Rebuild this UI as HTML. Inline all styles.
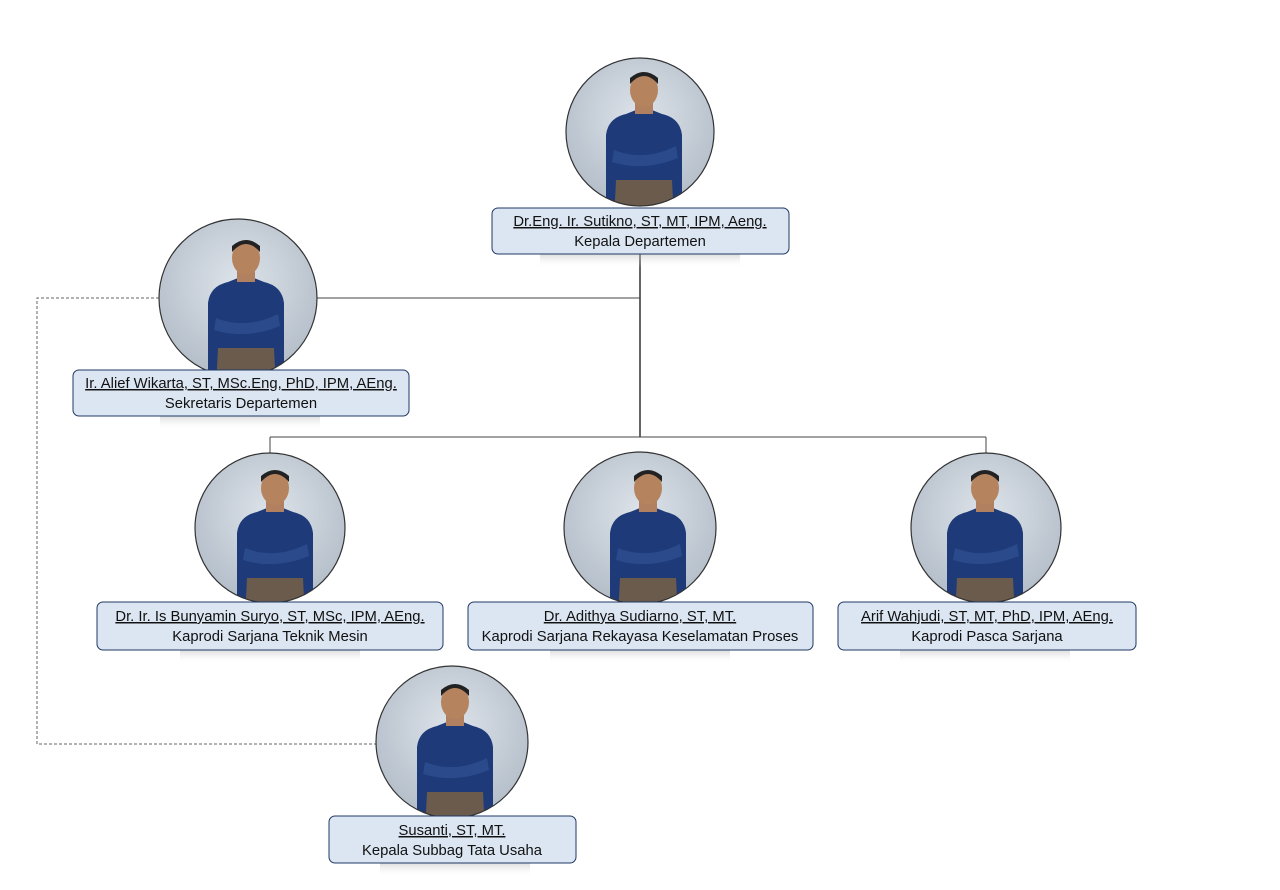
<!DOCTYPE html>
<html><head><meta charset="utf-8"><style>
html,body{margin:0;padding:0;background:#fff;}
svg{display:block;}
text{font-family:"Liberation Sans",sans-serif;font-size:14.8px;fill:#111;}
</style></head><body>
<svg width="1280" height="890" viewBox="0 0 1280 890">
<defs>
<radialGradient id="bg" cx="50%" cy="40%" r="60%">
<stop offset="0" stop-color="#dde3ea"/><stop offset="1" stop-color="#b4bec9"/>
</radialGradient>
<linearGradient id="sh" x1="0" y1="0" x2="0" y2="1">
<stop offset="0" stop-color="#bbb" stop-opacity="0.5"/><stop offset="1" stop-color="#fff" stop-opacity="0"/>
</linearGradient>
<g id="person">
<path d="M-38,80 L-38,-5 Q-36,-22 -18,-26 L-8,-30 L8,-30 L18,-26 Q36,-22 38,-5 L38,80 Z" fill="#1e3a78"/>
<path d="M-28,40 L28,40 L30,80 L-30,80 Z" fill="#8a6a3a" opacity="0.7"/>
<path d="M-30,10 Q0,22 32,6 L34,18 Q0,32 -32,22 Z" fill="#2a4a8c"/>
<rect x="-9" y="-38" width="18" height="12" fill="#b08060"/>
<ellipse cx="0" cy="-50" rx="14" ry="17" fill="#b5835e"/>
<path d="M-14,-56 Q0,-72 14,-56 L14,-62 Q0,-74 -14,-62 Z" fill="#222"/>
</g>
<clipPath id="c1"><circle cx="640" cy="132" r="74"/></clipPath>
<clipPath id="c2"><circle cx="238" cy="298" r="79"/></clipPath>
<clipPath id="c3"><circle cx="270" cy="528" r="75"/></clipPath>
<clipPath id="c4"><circle cx="640" cy="528" r="76"/></clipPath>
<clipPath id="c5"><circle cx="986" cy="528" r="75"/></clipPath>
<clipPath id="c6"><circle cx="452" cy="742" r="76"/></clipPath>
</defs>
<g stroke="#111" stroke-width="1.3" fill="none">
<line x1="640" y1="254" x2="640" y2="437"/>
<line x1="317" y1="298" x2="640" y2="298" stroke="#444" stroke-width="1"/>
<line x1="270" y1="437" x2="986" y2="437" stroke="#444" stroke-width="1"/>
<line x1="270" y1="437" x2="270" y2="453" stroke="#444" stroke-width="1"/>
<line x1="986" y1="437" x2="986" y2="453" stroke="#444" stroke-width="1"/>
</g>
<path d="M159,298 H37 V744 H376" fill="none" stroke="#666" stroke-width="1" stroke-dasharray="3,2"/>
<circle cx="640" cy="132" r="74" fill="url(#bg)"/>
<g clip-path="url(#c1)"><use href="#person" transform="translate(644,140)"/></g>
<circle cx="640" cy="132" r="74" fill="none" stroke="#333" stroke-width="1.2"/>
<circle cx="238" cy="298" r="79" fill="url(#bg)"/>
<g clip-path="url(#c2)"><use href="#person" transform="translate(246,308)"/></g>
<circle cx="238" cy="298" r="79" fill="none" stroke="#333" stroke-width="1.2"/>
<circle cx="270" cy="528" r="75" fill="url(#bg)"/>
<g clip-path="url(#c3)"><use href="#person" transform="translate(275,538)"/></g>
<circle cx="270" cy="528" r="75" fill="none" stroke="#333" stroke-width="1.2"/>
<circle cx="640" cy="528" r="76" fill="url(#bg)"/>
<g clip-path="url(#c4)"><use href="#person" transform="translate(648,538)"/></g>
<circle cx="640" cy="528" r="76" fill="none" stroke="#333" stroke-width="1.2"/>
<circle cx="986" cy="528" r="75" fill="url(#bg)"/>
<g clip-path="url(#c5)"><use href="#person" transform="translate(985,538)"/></g>
<circle cx="986" cy="528" r="75" fill="none" stroke="#333" stroke-width="1.2"/>
<circle cx="452" cy="742" r="76" fill="url(#bg)"/>
<g clip-path="url(#c6)"><use href="#person" transform="translate(455,752)"/></g>
<circle cx="452" cy="742" r="76" fill="none" stroke="#333" stroke-width="1.2"/>
<g fill="url(#sh)">
<rect x="540" y="254" width="200" height="14"/>
<rect x="160" y="416" width="160" height="14"/>
<rect x="180" y="650" width="180" height="14"/>
<rect x="550" y="650" width="180" height="14"/>
<rect x="900" y="650" width="170" height="14"/>
<rect x="380" y="863" width="150" height="14"/>
</g>
<g fill="#dce6f2" stroke="#1f3864" stroke-width="1">
<rect x="492" y="208" width="297" height="46" rx="6"/>
<rect x="73" y="370" width="336" height="46" rx="6"/>
<rect x="97" y="602" width="346" height="48" rx="6"/>
<rect x="468" y="602" width="345" height="48" rx="6"/>
<rect x="838" y="602" width="298" height="48" rx="6"/>
<rect x="329" y="816" width="247" height="47" rx="6"/>
</g>
<g text-anchor="middle">
<text x="640" y="226" text-decoration="underline">Dr.Eng. Ir. Sutikno, ST, MT, IPM, Aeng.</text>
<text x="640" y="246">Kepala Departemen</text>
<text x="241" y="388" text-decoration="underline">Ir. Alief Wikarta, ST, MSc.Eng, PhD, IPM, AEng.</text>
<text x="241" y="408">Sekretaris Departemen</text>
<text x="270" y="621" text-decoration="underline">Dr. Ir. Is Bunyamin Suryo, ST, MSc, IPM, AEng.</text>
<text x="270" y="641">Kaprodi Sarjana Teknik Mesin</text>
<text x="640" y="621" text-decoration="underline">Dr. Adithya Sudiarno, ST, MT.</text>
<text x="640" y="641">Kaprodi Sarjana Rekayasa Keselamatan Proses</text>
<text x="987" y="621" text-decoration="underline">Arif Wahjudi, ST, MT, PhD, IPM, AEng.</text>
<text x="987" y="641">Kaprodi Pasca Sarjana</text>
<text x="452" y="835" text-decoration="underline">Susanti, ST, MT.</text>
<text x="452" y="855">Kepala Subbag Tata Usaha</text>
</g>
</svg>
</body></html>
